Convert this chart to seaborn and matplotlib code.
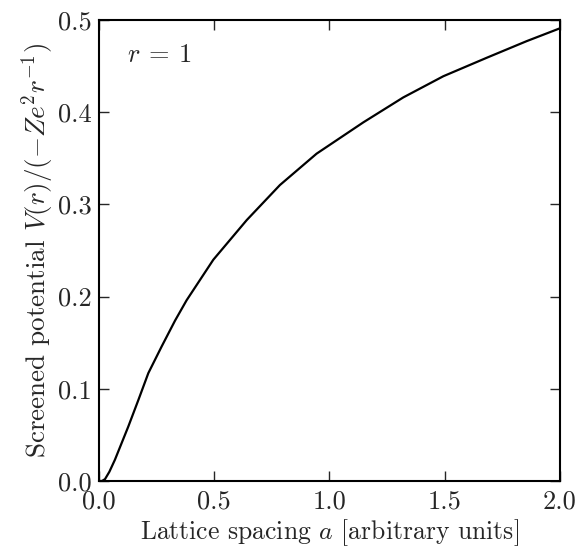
import matplotlib
matplotlib.use("Agg")
import matplotlib.pyplot as plt
import seaborn as sns
import pandas as pd

# Screened potential at r = 1 versus lattice spacing
spacing = [0.0, 0.013, 0.026, 0.045, 0.069, 0.127, 0.171, 0.214, 0.272, 0.33,
           0.38, 0.496, 0.641, 0.785, 0.944, 1.147, 1.32, 1.494, 1.682,
           1.855, 2.0]
potential = [0.0, 0.0, 0.002, 0.01, 0.023, 0.059, 0.088, 0.117, 0.146, 0.174,
             0.196, 0.240, 0.283, 0.321, 0.355, 0.389, 0.416, 0.439, 0.459,
             0.477, 0.491]

x_ticks = [0.0, 0.5, 1.0, 1.5, 2.0]
y_ticks = [0.0, 0.1, 0.2, 0.3, 0.4, 0.5]

sns.set_style("ticks")
plt.rcParams.update({
    "font.family": "serif",
    "font.serif": ["cmr10"],
    "mathtext.fontset": "cm",
    "axes.formatter.use_mathtext": True,
    "axes.unicode_minus": False,
    "font.size": 18,
})

df = pd.DataFrame({"a": spacing, "V": potential})

fig = plt.figure(figsize=(5.77, 5.49), dpi=100)
ax = fig.add_axes([0.1716, 0.1239, 0.7989, 0.8397])

sns.lineplot(data=df, x="a", y="V", ax=ax, color="black", linewidth=1.6)

ax.set_xlim(0, 2.0)
ax.set_ylim(0, 0.5)
ax.set_xticks(x_ticks)
ax.set_yticks(y_ticks)
ax.set_xticklabels([f"{t:.1f}" for t in x_ticks])
ax.set_yticklabels([f"{t:.1f}" for t in y_ticks])
ax.tick_params(direction="in", top=True, right=True, length=7, width=1,
               labelsize=19)
ax.tick_params(axis="x", pad=6)
ax.tick_params(axis="y", pad=5)
for s in ax.spines.values():
    s.set_linewidth(1.5)
    s.set_color("black")

ax.set_xlabel("Lattice spacing $a$ [arbitrary units]", fontsize=18.5, labelpad=3)
ax.set_ylabel("Screened potential $V(r)/(-Ze^2r^{-1})$", fontsize=19.5, labelpad=2)

ax.text(0.12, 0.462, r"$r\:=\:1$", fontsize=19, va="center", ha="left")

fig.savefig("out.png", dpi=100)
